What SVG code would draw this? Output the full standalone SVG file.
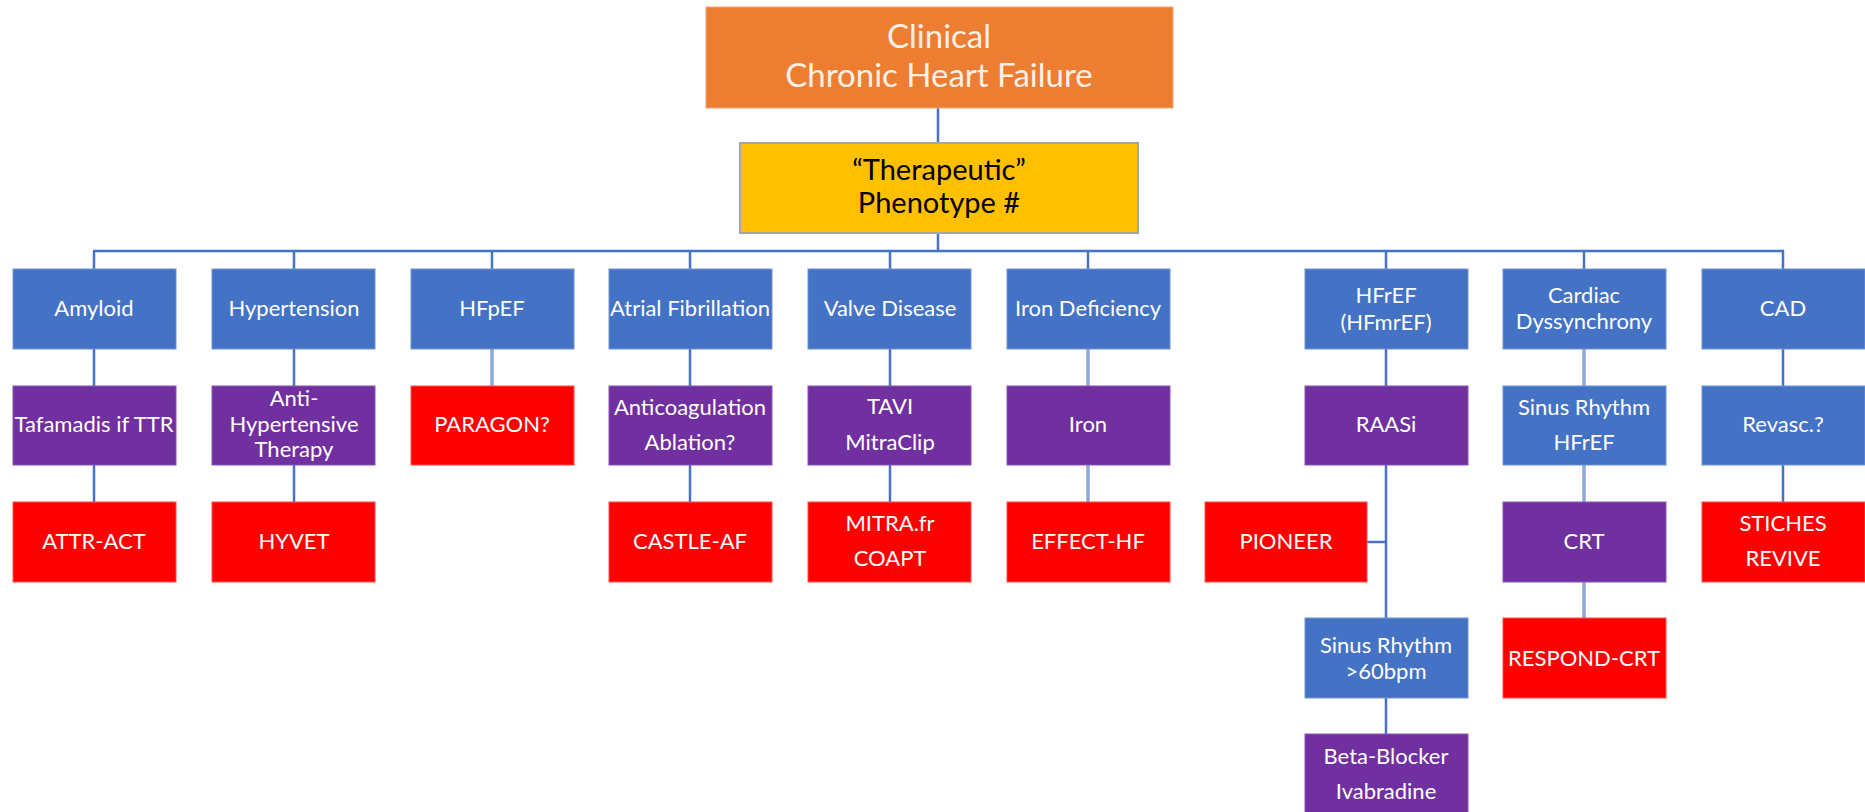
<svg xmlns="http://www.w3.org/2000/svg" width="1865" height="812" viewBox="0 0 1865 812">
<style>
.b{fill:#4472C4;stroke:#6f93d3;stroke-width:1}
.p{fill:#7030A0;stroke:#8a55b3;stroke-width:1}
.r{fill:#FF0000;stroke:#ff4d4d;stroke-width:1}
text{font-family:Lato,"Open Sans","Liberation Sans",sans-serif;font-size:22px;fill:#ffffff;text-anchor:middle}
.c line,.c polyline{stroke:#4472C4;stroke-width:2.5;fill:none}
.c .l{stroke:#8EA9DB;stroke-width:3.5}
</style>
<rect width="1865" height="812" fill="#ffffff"/>
<g class="c" id="connectors">
<line x1="938" y1="108" x2="938" y2="143"/>
<line x1="938" y1="233" x2="938" y2="251"/>
<line x1="93" y1="251" x2="1784" y2="251"/>
<line x1="94" y1="251" x2="94" y2="269"/>
<line x1="294" y1="251" x2="294" y2="269"/>
<line x1="492" y1="251" x2="492" y2="269"/>
<line x1="690" y1="251" x2="690" y2="269"/>
<line x1="890" y1="251" x2="890" y2="269"/>
<line x1="1088" y1="251" x2="1088" y2="269"/>
<line x1="1386" y1="251" x2="1386" y2="269"/>
<line x1="1584" y1="251" x2="1584" y2="269"/>
<line x1="1783" y1="251" x2="1783" y2="269"/>
<line x1="94" y1="349" x2="94" y2="386"/>
<line x1="94" y1="465" x2="94" y2="502"/>
<line x1="294" y1="349" x2="294" y2="386"/>
<line x1="294" y1="465" x2="294" y2="502"/>
<line class="l" x1="492" y1="349" x2="492" y2="386"/>
<line x1="690" y1="349" x2="690" y2="386"/>
<line x1="690" y1="465" x2="690" y2="502"/>
<line x1="890" y1="349" x2="890" y2="386"/>
<line x1="890" y1="465" x2="890" y2="502"/>
<line class="l" x1="1088" y1="349" x2="1088" y2="386"/>
<line class="l" x1="1088" y1="465" x2="1088" y2="502"/>
<line x1="1386" y1="349" x2="1386" y2="386"/>
<line x1="1386" y1="465" x2="1386" y2="618"/>
<line x1="1367" y1="542" x2="1386" y2="542"/>
<line x1="1386" y1="698" x2="1386" y2="734"/>
<line class="l" x1="1584" y1="349" x2="1584" y2="386"/>
<line class="l" x1="1584" y1="465" x2="1584" y2="502"/>
<line class="l" x1="1584" y1="582" x2="1584" y2="618"/>
<line x1="1783" y1="349" x2="1783" y2="386"/>
<line x1="1783" y1="465" x2="1783" y2="502"/>
</g>
<g id="clinical">
<rect x="706" y="7" width="467" height="101" fill="#ED7D31" stroke="#f4a576" stroke-width="1"/>
<text x="939" y="48" style="font-size:33px;fill:#fdf0e6">Clinical</text>
<text x="939" y="87" style="font-size:33px;fill:#fdf0e6">Chronic Heart Failure</text>
</g>
<g id="phenotype">
<rect x="740" y="143" width="398" height="90" fill="#FFC000" stroke="#a5a5a5" stroke-width="2"/>
<text x="939" y="180" style="font-size:29px;fill:#000000">“Therapeutic”</text>
<text x="939" y="213" style="font-size:29px;fill:#000000">Phenotype #</text>
</g>
<g id="amyloid"><rect class="b" x="13" y="269" width="163" height="80"/><text x="94" y="316">Amyloid</text></g>
<g id="hypertension"><rect class="b" x="212" y="269" width="163" height="80"/><text x="294" y="316">Hypertension</text></g>
<g id="hfpef"><rect class="b" x="411" y="269" width="163" height="80"/><text x="492" y="316">HFpEF</text></g>
<g id="af"><rect class="b" x="609" y="269" width="163" height="80"/><text x="690" y="316">Atrial Fibrillation</text></g>
<g id="valve"><rect class="b" x="808" y="269" width="163" height="80"/><text x="890" y="316">Valve Disease</text></g>
<g id="irondef"><rect class="b" x="1007" y="269" width="163" height="80"/><text x="1088" y="316">Iron Deficiency</text></g>
<g id="hfref"><rect class="b" x="1305" y="269" width="163" height="80"/><text x="1386" y="303">HFrEF</text><text x="1386" y="330">(HFmrEF)</text></g>
<g id="dyssync"><rect class="b" x="1503" y="269" width="163" height="80"/><text x="1584" y="303">Cardiac</text><text x="1584" y="329">Dyssynchrony</text></g>
<g id="cad"><rect class="b" x="1702" y="269" width="163" height="80"/><text x="1783" y="316">CAD</text></g>

<g id="tafamadis"><rect class="p" x="13" y="386" width="163" height="79"/><text x="94" y="432">Tafamadis if TTR</text></g>
<g id="antihyp"><rect class="p" x="212" y="386" width="163" height="79"/><text x="294" y="406">Anti-</text><text x="294" y="432">Hypertensive</text><text x="294" y="457">Therapy</text></g>
<g id="paragon"><rect class="r" x="411" y="386" width="163" height="79"/><text x="492" y="432">PARAGON?</text></g>
<g id="anticoag"><rect class="p" x="609" y="386" width="163" height="79"/><text x="690" y="415">Anticoagulation</text><text x="690" y="450">Ablation?</text></g>
<g id="tavi"><rect class="p" x="808" y="386" width="163" height="79"/><text x="890" y="414">TAVI</text><text x="890" y="450">MitraClip</text></g>
<g id="iron"><rect class="p" x="1007" y="386" width="163" height="79"/><text x="1088" y="432">Iron</text></g>
<g id="raasi"><rect class="p" x="1305" y="386" width="163" height="79"/><text x="1386" y="432">RAASi</text></g>
<g id="sinus1"><rect class="b" x="1503" y="386" width="163" height="79"/><text x="1584" y="415">Sinus Rhythm</text><text x="1584" y="450">HFrEF</text></g>
<g id="revasc"><rect class="b" x="1702" y="386" width="163" height="79"/><text x="1783" y="432">Revasc.?</text></g>

<g id="attr"><rect class="r" x="13" y="502" width="163" height="80"/><text x="94" y="549">ATTR-ACT</text></g>
<g id="hyvet"><rect class="r" x="212" y="502" width="163" height="80"/><text x="294" y="549">HYVET</text></g>
<g id="castle"><rect class="r" x="609" y="502" width="163" height="80"/><text x="690" y="549">CASTLE-AF</text></g>
<g id="mitra"><rect class="r" x="808" y="502" width="163" height="80"/><text x="890" y="531">MITRA.fr</text><text x="890" y="566">COAPT</text></g>
<g id="effect"><rect class="r" x="1007" y="502" width="163" height="80"/><text x="1088" y="549">EFFECT-HF</text></g>
<g id="pioneer"><rect class="r" x="1205" y="502" width="162" height="80"/><text x="1286" y="549">PIONEER</text></g>
<g id="crt"><rect class="p" x="1503" y="502" width="163" height="80"/><text x="1584" y="549">CRT</text></g>
<g id="stiches"><rect class="r" x="1702" y="502" width="163" height="80"/><text x="1783" y="531">STICHES</text><text x="1783" y="566">REVIVE</text></g>

<g id="sinus2"><rect class="b" x="1305" y="618" width="163" height="80"/><text x="1386" y="653">Sinus Rhythm</text><text x="1386" y="679">&gt;60bpm</text></g>
<g id="respond"><rect class="r" x="1503" y="618" width="163" height="80"/><text x="1584" y="666">RESPOND-CRT</text></g>
<g id="beta"><rect class="p" x="1305" y="734" width="163" height="80"/><text x="1386" y="764">Beta-Blocker</text><text x="1386" y="799">Ivabradine</text></g>
</svg>
